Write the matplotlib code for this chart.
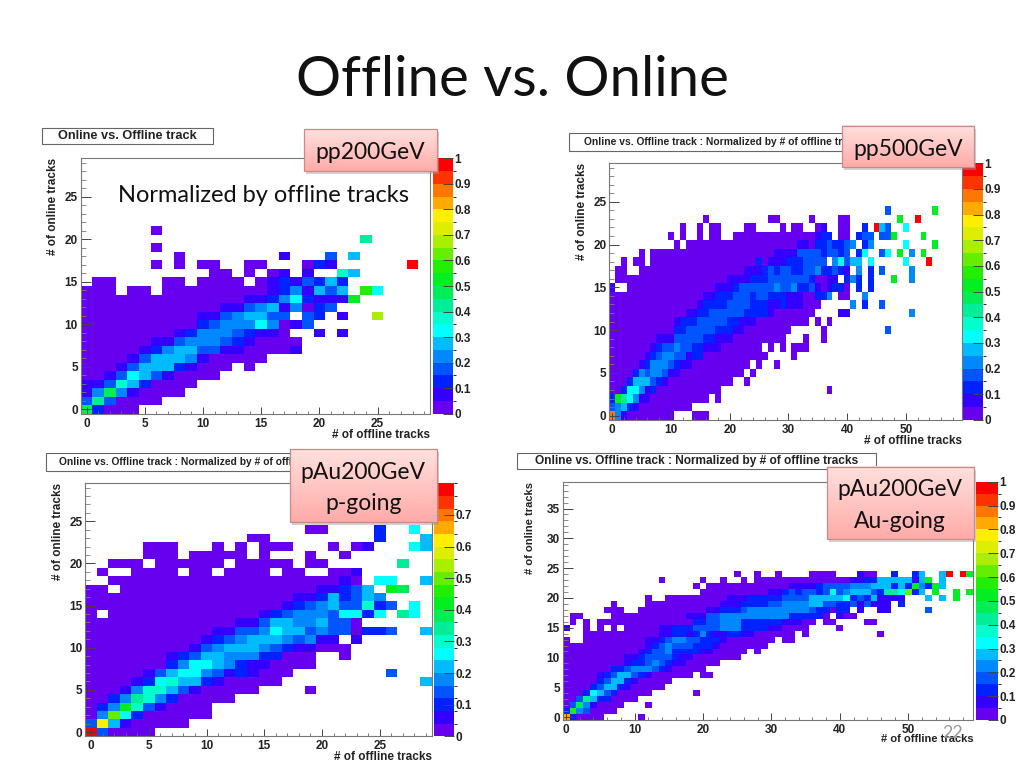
import numpy as np
import matplotlib
matplotlib.use("Agg")
import matplotlib.pyplot as plt
from matplotlib.colors import ListedColormap, BoundaryNorm
from matplotlib.patches import Rectangle
from matplotlib.ticker import MultipleLocator

# each row is one y bin, bottom row first. char = colour band 0-19 (0-9,a-j), '.' = empty bin
PP200_ROWS = [
    "92000",
    "3830000",
    "149410000",
    "1137520000",
    "001365310000",
    "0001355521000.0",
    "0000135554100000",
    "0000012455331100001",
    "0000001134443210000",
    "000000001244432110..1.1",
    "00000000002344464013",
    "000000000011345533.32.1..d",
    "0000000000001134514023",
    "00000000000000112462111a",
    "000.00.0000000001241535.b6",
    ".00....00.0000.01213252",
    "...........00.0.01.1..75",
    "......0.0.00..00...021......j",
    "........0........1...3.5",
    "......0",
    "........................8",
    "......0",
]

PP500_ROWS = [
    "h41" "00000000" "..." "000",
    "34521" "000000000",
    "2a86411" "0000000000" ".0",
    "00266412" "00000000000" ".................." "0",
    "0002555321" "00000000000" "..0",
    "000024344311" "00000000000" ".0",
    "00000124443211" "0000000000" ".0..0",
    "0000001234433122" "00000000000" "...." "0",
    "0000000123343322111" "0000000" ".0.0.000",
    "00000000" "111" "33333" "22" "111" "000000000" "...0..0",
    "00000000000" "223333322211" "00000000" "....." "0" ".........." "3",
    "00000000000" "12223333322111" "000000000" ".0.0",
    "0000000000000" "11" "22" "333333" "2222" "1" "0000000" "...." "11" ".........." "4",
    "000000000000000" "1" "2222" "3333" "222" "11" "2" "111" "000" "....." "4" "." "2" ".." "3",
    "0000000000000000" "11" "222" "333" "2" "33" "222" "111" "00" "22" "4" "." "00" ".." "4",
    "1.." "000000000000000" "111" "2" "333333" "4" "33" "4" "22" "3" "1" "0" "1" "22" "0" ".2.2",
    "." "0000000000000000000" "1111" "222" "3333333" "2" "00" "11" ".2" "42" ".2" "..." "a" ".." "4",
    ".00.." "000000000000000000" "111" "2" "3" "2" "33" "22" "33" "4" "22" "3" "2" "1" "." "4" "." "2" "." "3" "...." "4",
    "..0.00." "000000000000000000" "2" "0" "111" "222" "3333" "." "4" "6" "3" "55" "." "6" "....." "6" "..." "j",
    "....." "0" "." "000000000000000000000" "1111" "3333" "2" "33" "2" "3" "." "2" "6" ".." "3" "6" "." "a" "." "4" "." "a",
    "..........." "0." "0000000000000000000" "11" "0" "22" "3" "22" "3" "4" "." "2" "4" "....." "6" "...." "a",
    ".........." "0.0..0.00.." "00000000000000" "1" "22" "." "00" "." "2" "33" "." "33" "a" "...." "a",
    "............" "0" ".." "0" "." "00" "...." "00" "...." "0" "." "00" ".." "01" ".." "00" ".." "2" "." "j53" ".." "6",
    "................" "0" ".........." "00" "....." "0" "...." "00" "........" "a" ".." "j",
    "..............................................." "3" "......." "a",
]

PAU_P_ROWS = [
    "j30000",
    "3f5100000",
    "04c62000000",
    "024a7310000",
    "0024874200000",
    "0001477531" "00000" "....0",
    "000012675521" "00000" "............" "5",
    "00000" "1356643121" "000" "........" "3",
    "0000000" "246654211" "0000",
    "0000000" "1235544422" "000" "..0",
    "000000000" "13455543211" "000",
    "0000000000" "123455543411" ".1",
    "00000000000" "11" "33" "4" "6" "5" "5" "3" "4" "3" "3" "0" "22" "3" ".." "5",
    "0000000000000" "11355445330",
    "0." "0000000000000" "12344436626.86",
    "00000000000000000" "1234533723.6",
    "000000000000000000" "11" "2" "5" "2" "3" "5" "4",
    "00." "00000000000000000" "11" "2" "3" "5" "." "a" "9",
    ".." "00000000000000000000" "1" "0" "." "66" ".." "5",
    ".0..0000.00.0000.00..001",
    "..000.000000.00000.00" "......" "8",
    ".....000.00000.0...0..0",
    ".....000...0.0.000...0.01...65",
    ".............." "00" "........." "2" "..." "5",
    "..................." "00" "...." "2" ".." "6",
]

PAU_AU_ROWS = [
    "g20000.....0",
    "2b430000",
    "039410000...0",
    "00385220000",
    "0002653200000......0",
    "000023552100000",
    "0000023552100000",
    "0000012355321" "000000" ".00",
    "0000000223444321" "00000",
    "000000000" "122343211" "00000",
    "000000000" "11" "2" "333" "3" "2" "11" "0000000",
    "00000000000" "12334222211" "00000" ".0",
    "000000000000" "12343332221" "0000000",
    "0.." "000000000" "11" "2" "3" "44" "33" "222" "1" "0000000" "." "00",
    "..." "00000000000" "11" "22" "1" "2" "4" "2" "11" "22" "11" "000000" "." "0" ".........." "0",
    "1..0.0.0." "00000" "11" "222" "3333" "444" "2222" "11" "0000" "...." "0",
    ".0.0." "00000000000000" "22" "33" "444" "222222" "111" "00" "." "00" "...." "00",
    ".00...." "00000000000" "111" "33" "444" "4444444" "22" "222" "0" "." "100",
    "......000.." "0000000000" "11222" "3444444" "4443" "22" "0" "22" "." "1" ".." "11" "....." "3",
    ".......0...." "00000000000" "111" "2222" "33" "4444" "55" "33" "22" "3" "1" "3" "1" "11" "." "2",
    "............0.." "000000000" "111" "22222" "3333" "55555" "6" "2" "3" "2" "5" "1111" "..." "5" "." "5" "." "a",
    "...................." "0000000000" "11" "2" "3" "2" "33" "2" "3" "6" "3" "4" "55" "5" "3" "2" "88" "6" "c" "2" "5" "." "a" ".." "a" "." "a",
    "..................." "0." "000000000000" "1111" "2" "3333" "444" "5" "55" "2" "5" "2" "a" "4" "2" "a" "5",
    ".............." "0" "....." "0" ".." "0" ".." "0" "." "00000000000000" "11" "22" "55555" "1" "5" "a" "." "5",
    "........................." "0" ".." "0" ".." "0" "...." "0000" "..." "100" ".." "2" ".." "25" ".." "5j" "." "ja",
]

BAND_COLORS = [
    "#6600ee", "#3300ff", "#0022ff", "#0055ff", "#0088ff",
    "#00bbff", "#00ffff", "#00ffcc", "#00ee99", "#00ee55",
    "#00ee22", "#22ee00", "#66ee00", "#aaee00", "#ddee00",
    "#ffee00", "#ffaa00", "#ff7700", "#ff3300", "#ff0000",
]

BAND_CHARS = "0123456789abcdefghij"


def fig_axes(fig, left, top, right, bottom):
    # pixel box on the 1024x768 page -> figure fractions
    return fig.add_axes([left / 1024, 1 - bottom / 768, (right - left) / 1024, (bottom - top) / 768])


def rows_to_values(rows, nx, ny, z_top):
    values = np.full((ny, nx), np.nan)
    for j, row in enumerate(rows):
        for i, c in enumerate(row):
            if c != ".":
                values[j, i] = (BAND_CHARS.index(c) + 0.5) * z_top / 20
    return np.ma.masked_invalid(values)


def draw_panel(fig, rows, nx, ny, box, cbar_box, z_top, cbar_ticks, xmajor, xminor, ymajor):
    ax = fig_axes(fig, *box)
    cmap = ListedColormap(BAND_COLORS)
    bounds = np.linspace(0, z_top, 21)
    norm = BoundaryNorm(bounds, 20)
    xedges = np.arange(nx + 1) - 0.5
    yedges = np.arange(ny + 1) - 0.5
    mesh = ax.pcolormesh(xedges, yedges, rows_to_values(rows, nx, ny, z_top), cmap=cmap, norm=norm)
    ax.set_xlim(-0.5, nx - 0.5)
    ax.set_ylim(-0.5, ny - 0.5)
    ax.xaxis.set_major_locator(MultipleLocator(xmajor))
    ax.xaxis.set_minor_locator(MultipleLocator(xminor))
    ax.yaxis.set_major_locator(MultipleLocator(ymajor))
    ax.yaxis.set_minor_locator(MultipleLocator(1))
    ax.tick_params(axis="x", which="major", direction="in", length=5, width=0.7, color="#444444", pad=3)
    ax.tick_params(axis="x", which="minor", direction="in", length=2.5, width=0.6, color="#666666")
    ax.tick_params(axis="y", which="major", direction="in", length=7, width=0.7, color="#444444", pad=2)
    ax.tick_params(axis="y", which="minor", direction="in", length=3.5, width=0.6, color="#777777")
    for s in ax.spines.values():
        s.set_color("#777777")
        s.set_linewidth(0.8)
    for lab in ax.get_xticklabels() + ax.get_yticklabels():
        lab.set_fontweight("bold")
        lab.set_fontsize(8.5)
        lab.set_color("#222222")

    cax = fig_axes(fig, *cbar_box)
    cb = fig.colorbar(mesh, cax=cax, spacing="proportional", ticks=cbar_ticks)
    cb.outline.set_visible(False)
    cb.set_ticklabels([f"{t:g}" for t in cbar_ticks])
    cax.tick_params(axis="y", direction="in", length=7, width=0.7, color="#444444", pad=1)
    for lab in cax.get_yticklabels():
        lab.set_fontweight("bold")
        lab.set_fontsize(8.5)
        lab.set_color("#222222")
    return ax


def callout(ov, left, top, right, bottom, lines):
    ov.add_patch(Rectangle((left + 2, top + 3), right - left, bottom - top, fc="#999999", ec="none", alpha=0.45))
    grad = np.linspace(0, 1, 64).reshape(-1, 1, 1) * (np.array([1.0, 0.67, 0.66]) - np.array([1.0, 0.88, 0.87]))
    grad = grad + np.array([1.0, 0.88, 0.87])
    ov.imshow(grad, extent=(left, right, bottom, top), aspect="auto", zorder=2)
    ov.add_patch(Rectangle((left, top), right - left, bottom - top, fc="none", ec="#c98a88", lw=0.9, zorder=3))
    mid = (top + bottom) / 2 + 2.5
    for i, line in enumerate(lines):
        y = mid + (i - (len(lines) - 1) / 2) * 31
        ov.text((left + right) / 2, y, line, ha="center", va="center",
                fontsize=16.5, family="Lato", color="#111111", zorder=4)


def title_box(ov, left, top, right, bottom, label, size):
    ov.add_patch(Rectangle((left, top), right - left, bottom - top, fc="white", ec="#666666", lw=0.8, zorder=1))
    ov.text((left + 0.5 * (right - left)), (top + bottom) / 2, label, ha="center", va="center",
            fontsize=size, fontweight="bold", color="#222222", zorder=1)


plt.rcParams["font.family"] = ["Liberation Sans", "DejaVu Sans"]

fig = plt.figure(figsize=(10.24, 7.68), dpi=100)

ticks_full = [round(0.1 * i, 1) for i in range(11)]
ticks_short = [round(0.1 * i, 1) for i in range(8)]

draw_panel(fig, PP200_ROWS, 30, 30, (80.7, 158.3, 430, 413.7), (432.7, 158.3, 452.7, 413.7), 1.0, ticks_full, 5, 1, 5)
draw_panel(fig, PP500_ROWS, 60, 30, (609.3, 163.3, 961.7, 420), (963.3, 163.3, 983.3, 420), 1.0, ticks_full, 10, 2, 5)
draw_panel(fig, PAU_P_ROWS, 30, 30, (85.3, 483.3, 431.7, 736.3), (434, 483.3, 453.7, 736.3), 0.8, ticks_short, 5, 1, 5)
draw_panel(fig, PAU_AU_ROWS, 60, 40, (562.7, 481.7, 973.3, 720), (975.7, 481.7, 998.3, 720), 1.0, ticks_full, 10, 2, 5)

# page level things in pixel coords
ov = fig.add_axes([0, 0, 1, 1], zorder=10)
ov.patch.set_alpha(0)
ov.axis("off")

fig.text(512 / 1024, 1 - 81 / 768, "Offline vs. Online", ha="center", va="center", fontsize=40.6, family="Lato", color="#111111")

title_box(ov, 41.7, 128, 213, 144, "Online vs. Offline track", 9.2)
title_box(ov, 569.3, 133.3, 879, 150.7, "Online vs. Offline track : Normalized by # of offline tracks", 7.4)
title_box(ov, 46, 453.3, 354, 470.7, "Online vs. Offline track : Normalized by # of offline tracks", 7.4)
title_box(ov, 516.7, 453.3, 875.7, 469.3, "Online vs. Offline track : Normalized by # of offline tracks", 8.6)

ov.text(263, 195, "Normalized by offline tracks", ha="center", va="center", fontsize=17, family="Lato", color="#111111")

xlabel_spots = [(430, 435, 8.5), (961.7, 441, 8.5), (431.7, 757, 8.5), (973.3, 739.5, 8)]
for x, y, size in xlabel_spots:
    ov.text(x, y, "# of offline tracks", ha="right", va="center", fontsize=size, fontweight="bold", color="#222222")
ylabel_spots = [(53, 158.3, 8.5), (582, 163.3, 8.5), (58, 483.3, 8.5), (530, 481.7, 8)]
for x, y, size in ylabel_spots:
    ov.text(x, y, "# of online tracks", ha="center", va="top", rotation=90, fontsize=size, fontweight="bold", color="#222222")

callout(ov, 304.3, 129.3, 436.7, 170.7, ["pp200GeV"])
callout(ov, 842.3, 126, 974.3, 167.3, ["pp500GeV"])
callout(ov, 290, 449.3, 436.7, 522.3, ["pAu200GeV", "p-going"])
callout(ov, 827, 466.7, 973.7, 539.3, ["pAu200GeV", "Au-going"])

ov.text(953, 733, "22", ha="center", va="center", fontsize=13, family="Lato", color="#999999", zorder=5)

ov.set_xlim(0, 1024)
ov.set_ylim(768, 0)

fig.savefig("out.png", dpi=100)
